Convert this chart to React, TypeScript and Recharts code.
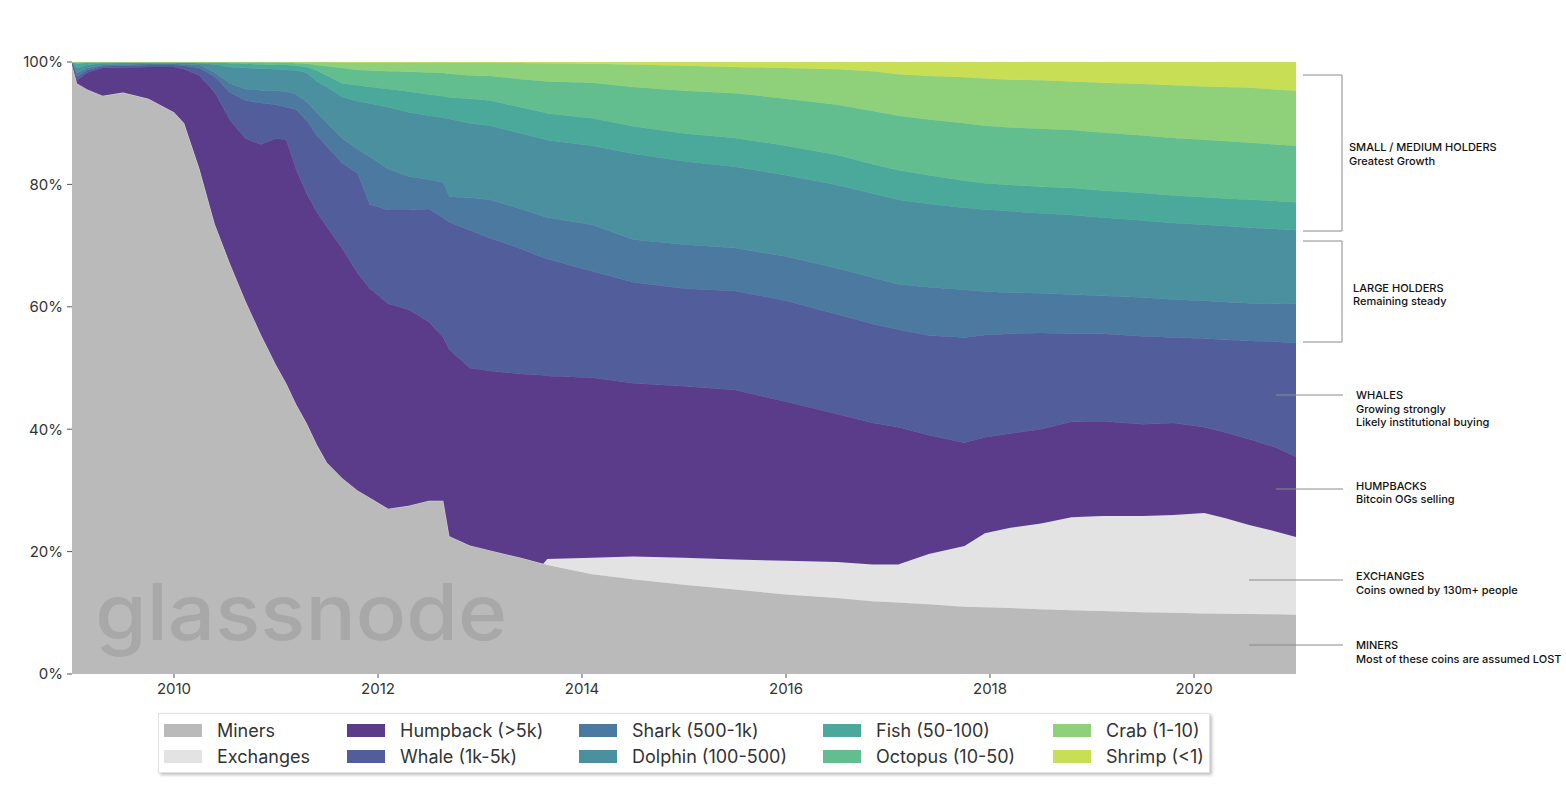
import React from 'react';
import { AreaChart, Area, XAxis, YAxis } from 'recharts';

// Decimal-year sample dates
const dates = [
  2009.0, 2009.05, 2009.15, 2009.3, 2009.5, 2009.75, 2010.0, 2010.1, 2010.25, 2010.4,
  2010.55, 2010.7, 2010.85, 2011.0, 2011.1, 2011.2, 2011.3, 2011.4, 2011.5, 2011.65,
  2011.8, 2011.92, 2012.1, 2012.3, 2012.5, 2012.64, 2012.7, 2012.9, 2013.1, 2013.4,
  2013.62, 2013.66, 2014.1, 2014.5, 2015.0, 2015.5, 2016.0, 2016.5, 2016.85, 2017.1,
  2017.4, 2017.75, 2017.95, 2018.2, 2018.5, 2018.8, 2019.1, 2019.5, 2019.8, 2020.1,
  2020.3, 2020.55, 2020.8, 2021.0,
];

// Upper edge (cumulative % of supply) of each cohort band
const minersEdge = [
  99.8, 96.5, 95.5, 94.5, 95.0, 94.0, 91.8, 90.0, 82.5, 73.5,
  67.0, 61.0, 55.5, 50.5, 47.5, 44.0, 41.0, 37.5, 34.5, 32.0,
  30.0, 28.8, 27.0, 27.5, 28.3, 28.3, 22.5, 21.0, 20.2, 19.0,
  18.0, 17.8, 16.3, 15.5, 14.6, 13.8, 13.0, 12.4, 11.9, 11.7,
  11.4, 11.0, 10.9, 10.8, 10.6, 10.4, 10.3, 10.1, 10.0, 9.9,
  9.85, 9.8, 9.75, 9.7,
];
const exchangesEdge = [
  99.8, 96.5, 95.5, 94.5, 95.0, 94.0, 91.8, 90.0, 82.5, 73.5,
  67.0, 61.0, 55.5, 50.5, 47.5, 44.0, 41.0, 37.5, 34.5, 32.0,
  30.0, 28.8, 27.0, 27.5, 28.3, 28.3, 22.5, 21.0, 20.2, 19.0,
  18.0, 18.8, 19.0, 19.2, 19.0, 18.7, 18.5, 18.3, 17.9, 17.9,
  19.6, 20.9, 23.0, 23.9, 24.6, 25.6, 25.8, 25.8, 26.0, 26.3,
  25.5, 24.3, 23.3, 22.4,
];
const humpbackEdge = [
  99.8, 97.0, 98.3, 99.0, 99.1, 99.2, 99.2, 98.8, 97.8, 95.0,
  90.5, 87.5, 86.5, 87.5, 87.3, 82.3, 78.5, 75.5, 73.0, 69.5,
  65.5, 63.0, 60.5, 59.5, 57.5, 55.0, 53.0, 50.0, 49.5, 49.0,
  48.8, 48.7, 48.4, 47.5, 47.0, 46.4, 44.5, 42.5, 41.0, 40.3,
  39.0, 37.8, 38.7, 39.3, 40.0, 41.2, 41.3, 40.8, 41.0, 40.3,
  39.5, 38.3, 37.0, 35.5,
];
const whaleEdge = [
  99.85, 97.6, 98.7, 99.3, 99.4, 99.5, 99.5, 99.4, 99.0, 97.6,
  95.0, 93.7, 93.3, 93.0, 92.6, 92.2, 90.5, 88.0, 86.2, 83.5,
  81.8, 76.7, 75.8, 75.8, 76.0, 74.5, 73.8, 72.5, 71.2, 69.5,
  68.0, 67.8, 65.8, 64.0, 63.0, 62.6, 61.0, 58.8, 57.2, 56.3,
  55.3, 55.0, 55.4, 55.6, 55.7, 55.6, 55.6, 55.2, 55.0, 54.8,
  54.6, 54.4, 54.3, 54.1,
];
const sharkEdge = [
  99.9, 98.2, 99.0, 99.5, 99.6, 99.7, 99.7, 99.6, 99.5, 98.3,
  96.5, 95.6, 95.4, 95.3, 95.2, 94.7, 93.5, 91.8, 90.0, 87.5,
  85.8, 84.5, 82.5, 81.3, 80.8, 80.3, 78.0, 77.8, 77.5, 76.0,
  74.8, 74.6, 73.4, 71.0, 70.2, 69.6, 68.2, 66.3, 64.8, 63.7,
  63.2, 62.8, 62.5, 62.3, 62.2, 62.0, 61.8, 61.5, 61.2, 61.0,
  60.8, 60.6, 60.5, 60.6,
];
const dolphinEdge = [
  99.95, 99.0, 99.5, 99.8, 99.85, 99.9, 99.9, 99.9, 99.8, 99.6,
  99.2, 99.0, 98.9, 98.8, 98.7, 98.6, 98.3, 96.8, 95.9, 94.3,
  93.6, 93.2, 92.6, 91.8, 91.2, 90.9, 90.7, 90.0, 89.6, 88.3,
  87.4, 87.2, 86.3, 85.0, 83.8, 82.9, 81.5, 79.9, 78.5, 77.5,
  76.8, 76.2, 75.9, 75.6, 75.3, 75.0, 74.6, 74.1, 73.7, 73.4,
  73.2, 72.9, 72.7, 72.5,
];
const fishEdge = [
  100, 99.7, 99.9, 100, 100, 100, 100, 100, 100, 99.9,
  99.8, 99.7, 99.6, 99.5, 99.5, 99.4, 99.2, 98.6, 97.8, 96.5,
  96.2, 95.9, 95.6, 95.2, 94.7, 94.4, 94.2, 94.0, 93.7, 92.6,
  91.8, 91.6, 90.8, 89.5, 88.3, 87.6, 86.3, 84.8, 83.3, 82.3,
  81.5, 80.6, 80.2, 79.9, 79.6, 79.4, 79.0, 78.6, 78.2, 77.9,
  77.7, 77.5, 77.3, 77.1,
];
const octopusEdge = [
  100, 100, 100, 100, 100, 100, 100, 100, 100, 100,
  100, 100, 100, 99.9, 99.9, 99.8, 99.7, 99.5, 99.3, 99.0,
  98.7, 98.6, 98.5, 98.4, 98.3, 98.2, 98.1, 97.8, 97.7, 97.2,
  96.9, 96.8, 96.6, 95.9, 95.3, 94.9, 94.0, 93.0, 92.0, 91.2,
  90.6, 90.0, 89.6, 89.3, 89.1, 88.9, 88.5, 88.0, 87.6, 87.3,
  87.1, 86.8, 86.5, 86.3,
];
const crabEdge = [
  100, 100, 100, 100, 100, 100, 100, 100, 100, 100,
  100, 100, 100, 100, 100, 100, 100, 100, 100, 99.9,
  99.9, 99.9, 99.9, 99.9, 99.9, 99.9, 99.9, 99.9, 99.9, 99.85,
  99.8, 99.8, 99.7, 99.6, 99.4, 99.2, 99.0, 98.8, 98.5, 98.0,
  97.7, 97.5, 97.3, 97.1, 97.0, 96.8, 96.6, 96.4, 96.2, 96.0,
  95.9, 95.8, 95.5, 95.3,
];

const xTicks = [2010, 2012, 2014, 2016, 2018, 2020];
const yTicks = [0, 20, 40, 60, 80, 100];

const series = [
  { key: 'miners', name: 'Miners', color: '#bababa' },
  { key: 'exchanges', name: 'Exchanges', color: '#e3e3e3' },
  { key: 'humpback', name: 'Humpback (>5k)', color: '#5a3c8a' },
  { key: 'whale', name: 'Whale (1k-5k)', color: '#525e9b' },
  { key: 'shark', name: 'Shark (500-1k)', color: '#4c799f' },
  { key: 'dolphin', name: 'Dolphin (100-500)', color: '#4b909e' },
  { key: 'fish', name: 'Fish (50-100)', color: '#4aa99a' },
  { key: 'octopus', name: 'Octopus (10-50)', color: '#63be8f' },
  { key: 'crab', name: 'Crab (1-10)', color: '#8fd17a' },
  { key: 'shrimp', name: 'Shrimp (<1)', color: '#c8de55' },
];

const edgeArrays = [
  minersEdge, exchangesEdge, humpbackEdge, whaleEdge, sharkEdge,
  dolphinEdge, fishEdge, octopusEdge, crabEdge,
];

// Band share = own upper edge minus the edge below it (shrimp tops out at 100%)
const data = dates.map((t, i) => {
  const row: Record<string, number> = { t };
  let prev = 0;
  series.forEach((s, j) => {
    const top = j < edgeArrays.length ? edgeArrays[j][i] : 100;
    row[s.key] = Math.max(0, Math.round((top - prev) * 1000) / 1000);
    prev = Math.max(prev, top);
  });
  return row;
});

const legendCols = [5, 188, 420, 664, 894];

const annoText: React.CSSProperties = {};

export default function App() {
  const font = 'Inter, Roboto, sans-serif';
  return (
    <div style={{ position: 'absolute', left: 0, top: 0, width: 1566, height: 803, background: '#fff', fontFamily: font, overflow: 'hidden' }}>
      <AreaChart width={1566} height={803} data={data} margin={{ top: 62, right: 270, bottom: 99, left: 12 }}>
        <XAxis
          dataKey="t"
          type="number"
          domain={[2009, 2021]}
          ticks={xTicks}
          allowDataOverflow
          axisLine={false}
          tickLine={{ stroke: '#555' }}
          tickSize={4}
          tickMargin={5}
          height={30}
          tick={{ fill: '#333', fontSize: 15, fontFamily: font }}
        />
        <YAxis
          domain={[0, 100]}
          ticks={yTicks}
          allowDataOverflow
          tickFormatter={(v: number) => `${v}%`}
          width={60}
          axisLine={false}
          tickLine={{ stroke: '#555' }}
          tickSize={5}
          tickMargin={4}
          tick={{ fill: '#333', fontSize: 15, fontFamily: font }}
        />
        {series.map((s) => (
          <Area
            key={s.key}
            type="linear"
            dataKey={s.key}
            name={s.name}
            stackId="1"
            fill={s.color}
            fillOpacity={1}
            stroke={s.color}
            strokeWidth={0.8}
            dot={false}
            activeDot={false}
            isAnimationActive={false}
          />
        ))}
      </AreaChart>

      <svg width={1566} height={803} style={{ position: 'absolute', left: 0, top: 0, pointerEvents: 'none' }}>
        <text x={95} y={640} fontSize={78} fontWeight={500} fill="#a8a8a8" fontFamily={font} textLength={412} lengthAdjust="spacingAndGlyphs">glassnode</text>

        <g stroke="#8a8a8a" strokeWidth={1} fill="none">
          <polyline points="1303,75 1342,75 1342,231 1303,231" />
          <polyline points="1303,241 1342,241 1342,342 1303,342" />
          <line x1={1276} y1={395} x2={1343} y2={395} />
          <line x1={1276} y1={489} x2={1343} y2={489} />
          <line x1={1249} y1={580} x2={1343} y2={580} />
          <line x1={1249} y1={645} x2={1343} y2={645} />
        </g>
        <g fontFamily={font} fontSize={11} fontWeight={500} fill="#111" style={annoText}>
          <text x={1349} y={151}>SMALL / MEDIUM HOLDERS</text>
          <text x={1349} y={165}>Greatest Growth</text>
          <text x={1353} y={292}>LARGE HOLDERS</text>
          <text x={1353} y={305}>Remaining steady</text>
          <text x={1356} y={399}>WHALES</text>
          <text x={1356} y={413}>Growing strongly</text>
          <text x={1356} y={426}>Likely institutional buying</text>
          <text x={1356} y={490}>HUMPBACKS</text>
          <text x={1356} y={503}>Bitcoin OGs selling</text>
          <text x={1356} y={580}>EXCHANGES</text>
          <text x={1356} y={594}>Coins owned by 130m+ people</text>
          <text x={1356} y={649}>MINERS</text>
          <text x={1356} y={663}>Most of these coins are assumed LOST</text>
        </g>
      </svg>

      <div
        style={{
          position: 'absolute', left: 158, top: 713, width: 1052, height: 60,
          background: '#fff', border: '1px solid #e2e2e2', boxShadow: '2px 2px 3px rgba(0,0,0,0.25)',
          boxSizing: 'border-box',
        }}
      >
        {series.map((s, i) => {
          const col = Math.floor(i / 2);
          const row = i % 2;
          return (
            <div key={s.key} style={{ position: 'absolute', left: legendCols[col], top: row === 0 ? 5 : 31, height: 22, display: 'flex', alignItems: 'center' }}>
              <div style={{ width: 38, height: 13, background: s.color }} />
              <span style={{ marginLeft: 15, fontSize: 18, color: '#333', fontFamily: font, whiteSpace: 'nowrap' }}>{s.name}</span>
            </div>
          );
        })}
      </div>
    </div>
  );
}
